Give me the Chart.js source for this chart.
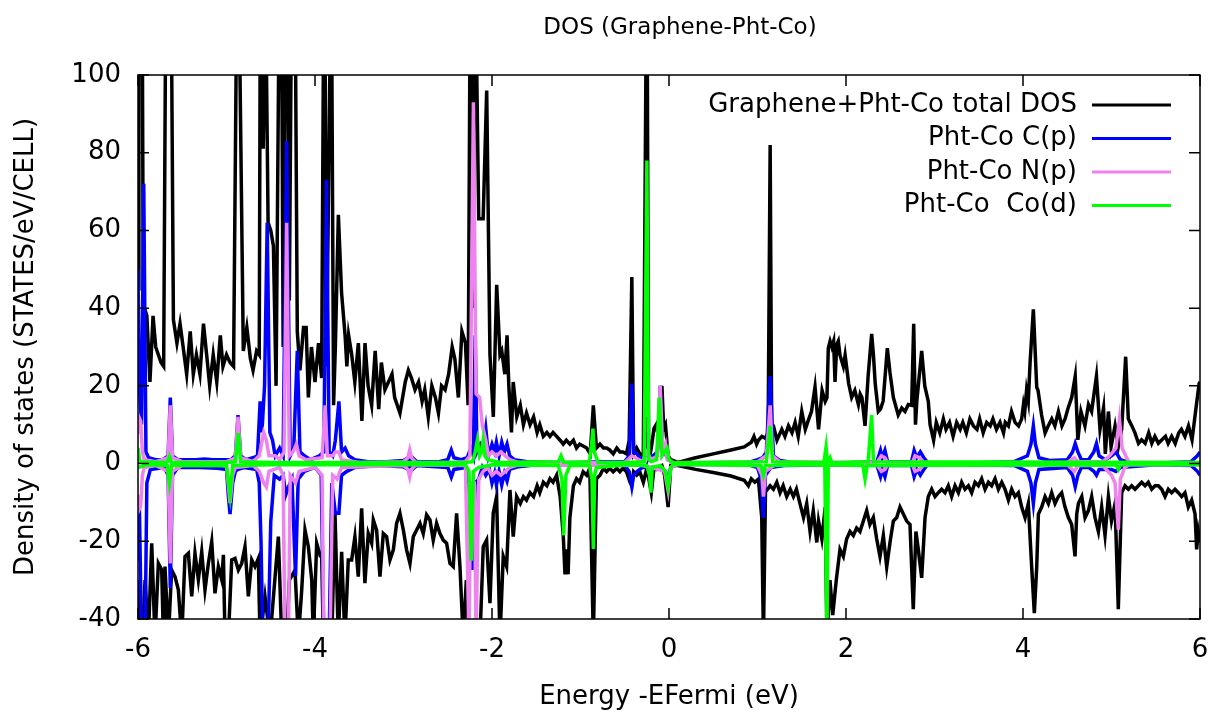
<!DOCTYPE html>
<html>
<head>
<meta charset="utf-8">
<title>DOS (Graphene-Pht-Co)</title>
<script src="https://cdn.jsdelivr.net/npm/chart.js@4.4.1/dist/chart.umd.min.js"></script>
<style>
  html, body { margin: 0; padding: 0; background: #fff; }
  #wrap { position: relative; width: 1216px; height: 715px; }
</style>
</head>
<body>
<div id="wrap"><canvas id="dos" width="1216" height="715"></canvas></div>
<script>
// ---------- data (energy in eV, DOS in states/eV/cell) ----------
const seriesLabels = ["Graphene+Pht-Co total DOS", "Pht-Co C(p)", "Pht-Co N(p)", "Pht-Co  Co(d)"];
const seriesColors = ["#000000", "#0000ff", "#ee82ee", "#00ff00"];
const chartTitle = "DOS (Graphene-Pht-Co)";
const xTitle = "Energy -EFermi (eV)";
const yTitle = "Density of states (STATES/eV/CELL)";

// total DOS, spin up
const totalUp = [
  [-6.00, 45], [-5.99, 105], [-5.95, 105], [-5.94, 41], [-5.90, 38], [-5.865, 21], [-5.83, 38], [-5.80, 30],
  [-5.77, 28], [-5.74, 26], [-5.71, 25], [-5.69, 105], [-5.62, 105], [-5.60, 37], [-5.56, 31], [-5.525, 36],
  [-5.49, 30], [-5.45, 23], [-5.41, 34], [-5.375, 23], [-5.34, 28], [-5.30, 23], [-5.26, 36], [-5.22, 27],
  [-5.19, 20], [-5.15, 28], [-5.11, 21], [-5.07, 33], [-5.04, 25], [-5.00, 28], [-4.96, 26], [-4.92, 25],
  [-4.89, 105], [-4.85, 105], [-4.81, 29], [-4.77, 35], [-4.73, 27], [-4.70, 24], [-4.66, 29], [-4.63, 28],
  [-4.62, 105], [-4.595, 105], [-4.585, 81], [-4.57, 105], [-4.55, 105], [-4.53, 62], [-4.50, 60], [-4.47, 56],
  [-4.44, 20], [-4.41, 105], [-4.375, 105], [-4.36, 30], [-4.34, 105], [-4.31, 105], [-4.29, 42], [-4.27, 105],
  [-4.22, 105], [-4.20, 34], [-4.17, 24], [-4.13, 35], [-4.10, 35], [-4.075, 17], [-4.04, 30], [-4.00, 21],
  [-3.96, 31], [-3.925, 22], [-3.905, 105], [-3.885, 105], [-3.87, 25], [-3.83, 105], [-3.81, 105], [-3.79, 15],
  [-3.77, 30], [-3.736, 64], [-3.70, 44], [-3.66, 33], [-3.64, 25], [-3.62, 33], [-3.585, 28], [-3.55, 21],
  [-3.51, 31], [-3.47, 11], [-3.435, 31], [-3.40, 20], [-3.36, 15], [-3.32, 29], [-3.28, 14], [-3.25, 26],
  [-3.21, 19], [-3.17, 21], [-3.13, 23], [-3.10, 17], [-3.04, 13], [-2.98, 21], [-2.945, 24], [-2.91, 22],
  [-2.87, 19], [-2.83, 21], [-2.79, 16], [-2.76, 19], [-2.72, 12], [-2.68, 20], [-2.64, 17], [-2.605, 13],
  [-2.57, 20], [-2.53, 19], [-2.49, 23], [-2.45, 30], [-2.42, 27], [-2.38, 17], [-2.34, 34], [-2.30, 31],
  [-2.27, 15], [-2.25, 105], [-2.23, 105], [-2.215, 40], [-2.20, 105], [-2.175, 105], [-2.15, 63], [-2.10, 63],
  [-2.06, 96], [-2.023, 28], [-1.985, 12], [-1.947, 46], [-1.91, 28], [-1.89, 29], [-1.855, 23], [-1.83, 33],
  [-1.81, 20], [-1.78, 8], [-1.76, 21], [-1.72, 12], [-1.68, 15], [-1.645, 10], [-1.61, 13], [-1.57, 10],
  [-1.53, 12], [-1.49, 8], [-1.46, 10], [-1.42, 7], [-1.38, 8], [-1.345, 7], [-1.31, 8], [-1.27, 7],
  [-1.23, 6], [-1.195, 5], [-1.16, 6], [-1.12, 5], [-1.08, 6], [-1.045, 4], [-1.01, 5], [-0.97, 4.5],
  [-0.93, 4], [-0.89, 2.5], [-0.855, 15], [-0.82, 4], [-0.78, 5], [-0.74, 4], [-0.705, 4], [-0.67, 3.5],
  [-0.63, 2.5], [-0.59, 4], [-0.555, 3], [-0.52, 3], [-0.48, 2.5], [-0.45, 6], [-0.42, 48], [-0.40, 2.5],
  [-0.365, 4], [-0.33, 2.5], [-0.29, 2], [-0.26, 105], [-0.245, 105], [-0.23, 0.5], [-0.20, 4], [-0.17, 9],
  [-0.145, 10], [-0.12, 7], [-0.08, 20], [-0.06, 9], [-0.04, 10], [-0.01, 2], [0.02, 1], [0.10, 0.3],
  [0.30, 1.5], [0.50, 2.5], [0.70, 3.5], [0.85, 4.3], [0.93, 5.5], [0.96, 7], [0.99, 5], [1.01, 6],
  [1.05, 7], [1.09, 6.5], [1.12, 8], [1.143, 82], [1.16, 10], [1.18, 9.7], [1.22, 6], [1.275, 8.8],
  [1.31, 7], [1.35, 9.7], [1.39, 7.9], [1.425, 10.6], [1.46, 7], [1.50, 13.4], [1.54, 8.8], [1.58, 11.5],
  [1.61, 13.4], [1.65, 19.7], [1.69, 8.8], [1.73, 18.8], [1.765, 16], [1.785, 17], [1.80, 29.7], [1.82, 31.5],
  [1.84, 30], [1.86, 31.5], [1.876, 21], [1.895, 30.6], [1.913, 31.5], [1.932, 27.9], [1.97, 25], [1.99, 27.9],
  [2.03, 20.6], [2.064, 17], [2.10, 18.8], [2.14, 15.2], [2.16, 17.9], [2.18, 17], [2.215, 9.7], [2.25, 22.5],
  [2.29, 33.4], [2.31, 28], [2.33, 20.6], [2.365, 13.4], [2.39, 14], [2.42, 16.1], [2.467, 29.7], [2.497, 23.4],
  [2.535, 17], [2.59, 12.5], [2.63, 14.3], [2.667, 13.4], [2.704, 15.2], [2.742, 15], [2.765, 36], [2.785, 10],
  [2.80, 16], [2.855, 29], [2.89, 20], [2.93, 16], [2.95, 10], [2.99, 6], [3.02, 10.6], [3.06, 7.9],
  [3.10, 11.5], [3.13, 8.8], [3.17, 10.6], [3.21, 7], [3.25, 10.6], [3.29, 8.8], [3.32, 10.6], [3.36, 7.9],
  [3.40, 11.5], [3.44, 9.7], [3.48, 8.8], [3.51, 11.5], [3.55, 7.9], [3.59, 10.6], [3.63, 9.7], [3.66, 11.5],
  [3.70, 8.8], [3.74, 10.6], [3.78, 7.9], [3.80, 10.6], [3.835, 9.7], [3.87, 13.4], [3.91, 10.6], [3.95, 9.7],
  [3.985, 11.5], [4.005, 15.2], [4.02, 13.4], [4.04, 18.8], [4.06, 16.1], [4.08, 26], [4.117, 39.7], [4.155, 19.7],
  [4.17, 18.8], [4.21, 12.5], [4.25, 7.9], [4.285, 9.7], [4.325, 11.5], [4.36, 9.7], [4.40, 13.4], [4.44, 9.7],
  [4.475, 11.5], [4.51, 14.3], [4.55, 17], [4.59, 22.5], [4.62, 6.1], [4.655, 13.4], [4.70, 9.7], [4.74, 15.2],
  [4.775, 13.4], [4.83, 22.5], [4.87, 8.8], [4.91, 14.3], [4.93, 2.5], [4.965, 13.4], [4.995, 4.3], [5.04, 9.7],
  [5.077, 4.3], [5.115, 8.8], [5.16, 27.5], [5.19, 11.5], [5.23, 9.7], [5.265, 7.9], [5.305, 5.2], [5.34, 6.1],
  [5.38, 5.2], [5.42, 7.9], [5.455, 5.2], [5.49, 7], [5.53, 5.2], [5.57, 6.1], [5.61, 7], [5.64, 5.2],
  [5.68, 7], [5.72, 5.2], [5.76, 7.9], [5.79, 8.8], [5.83, 7], [5.87, 9.7], [5.91, 6.1], [5.95, 13.4],
  [5.99, 20.6], [6.00, 21]
];

// total DOS, spin down
const totalDown = [
  [-6.00, -30], [-5.99, -45], [-5.95, -45], [-5.92, -30], [-5.883, -45], [-5.845, -20.5], [-5.808, -45], [-5.77, -25.7],
  [-5.732, -27.4], [-5.713, -45], [-5.695, -26.5], [-5.657, -45], [-5.62, -27.4], [-5.582, -29.1], [-5.544, -32.5], [-5.506, -45],
  [-5.469, -23.9], [-5.431, -23.1], [-5.393, -34.2], [-5.356, -23.1], [-5.318, -29.9], [-5.28, -22.7], [-5.243, -32.5], [-5.205, -25.7],
  [-5.167, -20.1], [-5.13, -33.4], [-5.092, -26.5], [-5.054, -29.9], [-5.035, -23.5], [-5.017, -45], [-4.979, -45], [-4.941, -24.8],
  [-4.904, -24.4], [-4.866, -27.4], [-4.828, -25.7], [-4.791, -21.4], [-4.753, -34.2], [-4.715, -24.8], [-4.678, -26.5], [-4.64, -24.4],
  [-4.621, -45], [-4.565, -34.2], [-4.508, -45], [-4.414, -18.8], [-4.376, -45], [-4.32, -45], [-4.29, -30], [-4.226, -27.4],
  [-4.188, -45], [-4.15, -32.5], [-4.113, -17.1], [-4.075, -21.4], [-4.037, -29.9], [-4.019, -45], [-3.981, -20.5], [-3.944, -23.5],
  [-3.925, -23.1], [-3.906, -45], [-3.81, -45], [-3.774, -12.8], [-3.737, -45], [-3.699, -22.7], [-3.662, -45], [-3.624, -24.8],
  [-3.586, -24.8], [-3.549, -18.8], [-3.511, -29.1], [-3.473, -11.5], [-3.436, -30.8], [-3.398, -18], [-3.36, -20.5], [-3.341, -14.5],
  [-3.304, -17.1], [-3.266, -29.1], [-3.228, -18], [-3.191, -18.8], [-3.153, -24.8], [-3.115, -22.2], [-3.078, -15.4], [-3.04, -12.8],
  [-3.002, -17.1], [-2.965, -22.2], [-2.927, -25.7], [-2.889, -18.8], [-2.852, -17.1], [-2.814, -15.4], [-2.777, -18], [-2.739, -13.2],
  [-2.701, -14.5], [-2.664, -19.7], [-2.626, -15.4], [-2.588, -18], [-2.551, -19.7], [-2.513, -20.5], [-2.475, -25.7], [-2.438, -26.5],
  [-2.40, -12.8], [-2.362, -26.5], [-2.325, -45], [-2.29, -30], [-2.26, -45], [-2.17, -45], [-2.136, -45], [-2.099, -21.4],
  [-2.061, -19.7], [-2.023, -35.9], [-1.986, -12.8], [-1.948, -8.5], [-1.91, -45], [-1.873, -23.9], [-1.835, -26.5], [-1.797, -6.8],
  [-1.76, -18.8], [-1.722, -8.5], [-1.68, -10.3], [-1.645, -8.5], [-1.61, -9.4], [-1.57, -7.5], [-1.53, -8.5], [-1.49, -5.7],
  [-1.46, -7.5], [-1.42, -4.8], [-1.38, -5.7], [-1.345, -3.9], [-1.31, -4.8], [-1.27, -3], [-1.23, -8.5], [-1.195, -18.5],
  [-1.175, -28.5], [-1.155, -22.1], [-1.14, -28.5], [-1.12, -13.9], [-1.08, -5.7], [-1.045, -3.9], [-1.01, -4.8], [-0.97, -2.1],
  [-0.93, -3], [-0.895, -1.2], [-0.855, -45], [-0.82, -3.9], [-0.78, -3], [-0.74, -1.2], [-0.705, -2.1], [-0.67, -1.2],
  [-0.63, -2.1], [-0.59, -1.2], [-0.555, -2.1], [-0.52, -1.2], [-0.48, -2.1], [-0.44, -4.8], [-0.42, -5.7], [-0.40, -2.1],
  [-0.365, -3], [-0.33, -2.1], [-0.29, -4.8], [-0.25, -1.2], [-0.20, -7.5], [-0.17, -1.2], [-0.145, -1.5], [-0.12, -1],
  [-0.08, -0.5], [-0.05, -3], [-0.01, -11.2], [0.02, -0.5], [0.10, -0.5], [0.30, -1.5], [0.50, -2.3], [0.70, -3.2],
  [0.85, -4.3], [0.897, -5.7], [0.93, -3.9], [0.97, -4.8], [1.01, -4], [1.048, -13.9], [1.067, -45], [1.09, -7.3],
  [1.143, -5.7], [1.18, -6.6], [1.218, -4.8], [1.255, -7.5], [1.29, -5.7], [1.33, -8.5], [1.37, -6.6], [1.406, -8.5],
  [1.44, -6.6], [1.48, -10.3], [1.52, -13.9], [1.556, -10.3], [1.594, -17.5], [1.63, -12.1], [1.67, -20.3], [1.69, -14.8],
  [1.727, -19.4], [1.765, -11.2], [1.785, -45], [1.819, -30], [1.85, -39], [1.89, -30], [1.932, -22.1], [1.97, -23.9],
  [2.007, -19.4], [2.045, -17.5], [2.083, -18.5], [2.12, -16.6], [2.158, -17.5], [2.196, -14.8], [2.234, -12.1], [2.27, -15.7],
  [2.309, -13.9], [2.347, -19.4], [2.384, -23.9], [2.422, -18.5], [2.46, -26.6], [2.497, -20.3], [2.535, -14.8], [2.573, -13.9],
  [2.61, -11.2], [2.648, -13], [2.686, -14.8], [2.723, -15.7], [2.76, -37.5], [2.79, -17.5], [2.817, -22.1], [2.855, -29.4],
  [2.893, -13.9], [2.93, -8.5], [2.968, -6.6], [3.006, -8.5], [3.043, -7.5], [3.081, -6.6], [3.119, -7.5], [3.156, -5.7],
  [3.194, -8.5], [3.232, -5.7], [3.27, -7.5], [3.307, -4.8], [3.345, -6.6], [3.383, -5.7], [3.42, -7.5], [3.458, -4.8],
  [3.496, -5.7], [3.533, -3.9], [3.571, -6.6], [3.609, -4.8], [3.646, -5.7], [3.684, -3.9], [3.722, -6.6], [3.76, -4.8],
  [3.797, -6.6], [3.835, -9.4], [3.872, -6.6], [3.91, -8.5], [3.948, -7.5], [3.985, -11.2], [4.023, -13.9], [4.06, -10.3],
  [4.098, -26.6], [4.128, -38.5], [4.155, -26.6], [4.174, -13], [4.211, -11.2], [4.249, -8.5], [4.287, -10.3], [4.324, -7.5],
  [4.362, -10.3], [4.40, -8.5], [4.437, -7.5], [4.475, -11.2], [4.513, -13.9], [4.55, -15.7], [4.588, -23.9], [4.607, -13],
  [4.626, -10.3], [4.664, -8.5], [4.701, -13.9], [4.739, -12.1], [4.776, -8.5], [4.814, -13.9], [4.852, -17.5], [4.889, -11.2],
  [4.927, -18.5], [4.965, -8.5], [5.00, -14.8], [5.04, -10.3], [5.077, -37.5], [5.115, -7.5], [5.153, -5.7], [5.19, -6.6],
  [5.228, -5.7], [5.266, -6.6], [5.303, -5.7], [5.341, -4.8], [5.379, -5.7], [5.416, -4.8], [5.454, -6.6], [5.492, -5.7],
  [5.53, -5.7], [5.567, -6.6], [5.605, -8.5], [5.642, -6.6], [5.68, -7.5], [5.718, -6.6], [5.755, -7.5], [5.793, -8.5],
  [5.83, -7.5], [5.868, -11.2], [5.906, -9.4], [5.944, -13], [5.962, -22.1], [5.98, -17.5], [6.00, -20.3]
];

// Pht-Co C(p)
const cpUp = [
  [-6.00, 50], [-5.985, 20], [-5.96, 10], [-5.935, 72], [-5.91, 3], [-5.88, 1.5], [-5.80, 1], [-5.72, 1],
  [-5.66, 2], [-5.635, 17], [-5.61, 2], [-5.55, 1], [-5.45, 1], [-5.35, 1], [-5.25, 1.2], [-5.15, 1],
  [-5.05, 1], [-4.95, 1], [-4.90, 2], [-4.87, 12.5], [-4.84, 2], [-4.78, 1], [-4.70, 1.5], [-4.65, 2],
  [-4.62, 16], [-4.60, 8], [-4.57, 20], [-4.54, 62], [-4.51, 8], [-4.48, 6], [-4.45, 2], [-4.40, 4],
  [-4.36, 2], [-4.32, 83], [-4.28, 2], [-4.24, 4], [-4.20, 29], [-4.17, 3], [-4.12, 2], [-4.05, 1],
  [-3.95, 2], [-3.90, 3], [-3.87, 73], [-3.84, 3], [-3.80, 2], [-3.77, 6], [-3.73, 16], [-3.70, 3],
  [-3.66, 4], [-3.62, 2], [-3.55, 1], [-3.40, 0.5], [-3.20, 0.5], [-3.00, 0.8], [-2.95, 1.5], [-2.93, 0.5],
  [-2.90, 1.5], [-2.85, 0.5], [-2.60, 0.5], [-2.50, 1], [-2.46, 3.5], [-2.43, 1.5], [-2.35, 1], [-2.28, 1.5],
  [-2.24, 4], [-2.21, 2], [-2.19, 33], [-2.17, 3], [-2.13, 5], [-2.10, 4], [-2.07, 9], [-2.04, 2],
  [-2.00, 5], [-1.97, 3], [-1.95, 5.5], [-1.92, 2], [-1.89, 5.5], [-1.86, 3], [-1.83, 5], [-1.80, 2],
  [-1.75, 1], [-1.60, 0.5], [-1.30, 0.3], [-1.00, 0.3], [-0.80, 0.5], [-0.50, 0.5], [-0.45, 2], [-0.42, 20.6],
  [-0.40, 3], [-0.36, 2.5], [-0.32, 1], [-0.27, 2], [-0.25, 12], [-0.23, 1], [-0.18, 2], [-0.13, 3],
  [-0.10, 20], [-0.07, 3], [-0.04, 2.5], [-0.01, 1], [0.05, 0.2], [0.90, 0.3], [1.00, 1], [1.06, 1.5],
  [1.10, 3], [1.143, 22.5], [1.18, 2], [1.25, 0.8], [1.40, 0.3], [2.00, 0.2], [2.35, 0.5], [2.39, 3.4],
  [2.41, 1.5], [2.44, 3.4], [2.47, 0.5], [2.74, 0.5], [2.77, 3.4], [2.80, 1.5], [2.84, 3], [2.88, 1.5],
  [2.92, 0.3], [3.50, 0.2], [3.90, 0.5], [4.05, 2], [4.09, 5], [4.117, 9.7], [4.14, 5], [4.18, 1.5],
  [4.30, 0.8], [4.50, 1], [4.56, 3], [4.59, 5.2], [4.62, 3], [4.66, 1], [4.74, 1], [4.80, 3],
  [4.83, 5.2], [4.86, 2], [4.93, 1], [5.00, 2], [5.05, 3], [5.10, 1], [5.20, 0.3], [5.60, 0.2],
  [5.90, 0.5], [5.97, 2], [6.00, 3]
];
const cpDown = [
  [-6.00, -25], [-5.985, -10], [-5.96, -45], [-5.92, -45], [-5.90, -5], [-5.86, -1.5], [-5.70, -1], [-5.66, -3],
  [-5.635, -32], [-5.61, -3], [-5.55, -1], [-5.30, -1], [-5.10, -1.2], [-5.00, -1.5], [-4.98, -8], [-4.96, -13],
  [-4.93, -5], [-4.90, -2], [-4.87, -1.5], [-4.80, -1], [-4.66, -1.5], [-4.63, -5], [-4.61, -20], [-4.59, -45],
  [-4.53, -45], [-4.50, -15], [-4.46, -3], [-4.40, -4], [-4.36, -3], [-4.33, -8], [-4.30, -6], [-4.26, -4],
  [-4.22, -29], [-4.19, -4], [-4.12, -2], [-4.00, -1], [-3.93, -3], [-3.90, -45], [-3.84, -45], [-3.81, -5],
  [-3.77, -12.8], [-3.73, -12.8], [-3.70, -3], [-3.64, -2], [-3.55, -1], [-3.30, -0.5], [-3.00, -0.8], [-2.95, -1.5],
  [-2.93, -0.5], [-2.90, -1.5], [-2.85, -0.5], [-2.50, -1], [-2.46, -3.5], [-2.43, -1.5], [-2.30, -1], [-2.26, -5],
  [-2.22, -27.4], [-2.19, -5], [-2.15, -4], [-2.11, -1], [-2.07, -3], [-2.03, -1.5], [-2.00, -5], [-1.97, -2.5],
  [-1.95, -5.5], [-1.92, -2], [-1.89, -5.5], [-1.86, -2.5], [-1.83, -4.5], [-1.80, -1.5], [-1.70, -0.8], [-1.50, -0.3],
  [-1.00, -0.3], [-0.50, -0.5], [-0.45, -2], [-0.42, -6], [-0.40, -3], [-0.36, -2], [-0.30, -1], [-0.10, -1],
  [-0.04, -2], [-0.01, -5], [0.02, -1], [0.10, -0.2], [0.90, -0.3], [1.00, -1], [1.04, -4], [1.067, -14],
  [1.09, -3], [1.15, -1], [1.30, -0.5], [2.00, -0.3], [2.35, -0.5], [2.39, -3.4], [2.41, -1.5], [2.44, -3.4],
  [2.47, -0.5], [2.74, -0.5], [2.77, -3.4], [2.80, -1.5], [2.84, -3], [2.88, -1.5], [2.92, -0.3], [3.90, -0.5],
  [4.05, -2], [4.09, -5], [4.117, -10.3], [4.14, -5], [4.18, -1.5], [4.50, -1], [4.56, -3], [4.59, -6],
  [4.62, -3], [4.66, -1], [4.74, -1], [4.80, -2], [4.83, -3], [4.86, -1.5], [5.00, -1.5], [5.05, -2],
  [5.10, -1], [5.50, -0.3], [5.90, -0.5], [5.97, -2], [6.00, -3]
];

// Pht-Co N(p)
const npUp = [
  [-6.00, 8], [-5.99, 12], [-5.97, 11], [-5.95, 3], [-5.93, 1], [-5.80, 0.5], [-5.66, 1.5], [-5.635, 15],
  [-5.61, 1.5], [-5.50, 0.5], [-5.00, 0.5], [-4.90, 1.5], [-4.87, 12], [-4.84, 1.5], [-4.70, 0.5], [-4.63, 2],
  [-4.58, 8], [-4.55, 6], [-4.52, 2], [-4.45, 2], [-4.40, 1], [-4.35, 3], [-4.32, 62], [-4.29, 2],
  [-4.25, 3], [-4.21, 5], [-4.18, 2], [-4.10, 1], [-3.92, 1.5], [-3.885, 15], [-3.86, 2], [-3.80, 2],
  [-3.77, 3], [-3.73, 3], [-3.70, 1], [-3.50, 0.3], [-3.00, 0.5], [-2.95, 1.5], [-2.93, 3.5], [-2.91, 1.5],
  [-2.86, 0.3], [-2.50, 0.3], [-2.30, 0.5], [-2.25, 2], [-2.21, 93], [-2.18, 18], [-2.14, 17], [-2.11, 10],
  [-2.07, 6], [-2.04, 2], [-2.00, 3], [-1.95, 2], [-1.90, 3], [-1.85, 2], [-1.80, 1], [-1.70, 0.3],
  [-0.50, 0.3], [-0.42, 2], [-0.30, 0.5], [-0.25, 3], [-0.20, 1], [-0.13, 2], [-0.10, 20], [-0.07, 3],
  [-0.04, 5], [-0.02, 1], [0.05, 0.2], [1.00, 0.5], [1.10, 2], [1.143, 15], [1.17, 2], [1.25, 0.5],
  [2.35, 0.3], [2.40, 2], [2.44, 1.5], [2.47, 0.3], [2.75, 0.3], [2.78, 2], [2.83, 1.5], [2.88, 0.3],
  [4.50, 0.3], [4.58, 1.5], [4.62, 0.5], [4.90, 0.5], [4.98, 2], [5.05, 4], [5.09, 11.5], [5.12, 4],
  [5.16, 2], [5.20, 0.3], [6.00, 0.3]
];
const npDown = [
  [-6.00, -8], [-5.99, -12], [-5.97, -11], [-5.95, -3], [-5.93, -1], [-5.80, -0.5], [-5.66, -2], [-5.635, -25.7],
  [-5.61, -2], [-5.50, -0.5], [-5.00, -0.5], [-4.96, -10.2], [-4.93, -3], [-4.90, -1], [-4.70, -0.5], [-4.63, -2],
  [-4.58, -5], [-4.55, -6], [-4.52, -2], [-4.40, -1], [-4.36, -3], [-4.34, -45], [-4.30, -45], [-4.28, -3],
  [-4.22, -5], [-4.18, -2], [-4.00, -1], [-3.92, -3], [-3.90, -45], [-3.83, -45], [-3.80, -3], [-3.75, -4],
  [-3.70, -1], [-3.00, -0.5], [-2.95, -1.5], [-2.93, -3.5], [-2.91, -1.5], [-2.86, -0.3], [-2.30, -0.5], [-2.26, -45],
  [-2.24, -5], [-2.20, -5], [-2.18, -45], [-2.15, -4], [-2.10, -2], [-2.05, -1], [-2.00, -3], [-1.95, -2],
  [-1.90, -3], [-1.85, -2], [-1.80, -1], [-1.70, -0.3], [-0.30, -0.5], [-0.20, -1], [-0.05, -2], [-0.01, -7],
  [0.02, -1], [0.10, -0.2], [1.00, -0.5], [1.05, -3], [1.067, -8.5], [1.09, -2], [1.20, -0.3], [2.35, -0.3],
  [2.40, -2], [2.44, -1.5], [2.47, -0.3], [2.75, -0.3], [2.78, -2], [2.83, -1.5], [2.88, -0.3], [4.50, -0.3],
  [4.58, -2], [4.62, -0.5], [4.90, -0.5], [5.00, -3], [5.04, -5], [5.077, -17], [5.10, -4], [5.15, -1],
  [5.20, -0.3], [6.00, -0.3]
];

// Pht-Co Co(d)
const codUp = [
  [-6.00, 4], [-5.98, 0.5], [-5.70, 0.3], [-5.665, 0.5], [-5.645, 1.8], [-5.62, 0.3], [-5.00, 0.3], [-4.90, 0.5],
  [-4.866, 7.8], [-4.84, 0.5], [-4.50, 0.3], [-2.30, 0.3], [-2.22, 0.5], [-2.19, 3], [-2.165, 6], [-2.14, 2],
  [-2.12, 3], [-2.10, 6], [-2.08, 2], [-2.05, 1], [-1.90, 0.3], [-1.25, 0.5], [-1.22, 2], [-1.19, 0.3],
  [-0.90, 0.5], [-0.875, 5], [-0.86, 9], [-0.845, 3], [-0.82, 1.5], [-0.80, 0.3], [-0.50, 0.3], [-0.28, 0.5],
  [-0.25, 78], [-0.23, 1], [-0.20, 0.5], [-0.14, 1], [-0.11, 17], [-0.08, 2], [-0.05, 3], [-0.02, 4],
  [0.00, 1], [0.05, 0.2], [1.10, 0.5], [1.143, 9.7], [1.17, 0.5], [1.75, 0.3], [1.775, 4.3], [1.79, 0.3],
  [1.82, 1.5], [1.84, 0.2], [2.25, 0.5], [2.29, 12.5], [2.31, 0.5], [6.00, 0.3]
];
const codDown = [
  [-6.00, -1], [-5.90, -0.3], [-5.67, -0.5], [-5.645, -5], [-5.62, -0.5], [-5.00, -0.5], [-4.96, -8], [-4.93, -0.5],
  [-4.50, -0.3], [-2.30, -0.3], [-2.26, -2], [-2.235, -25], [-2.21, -2], [-2.15, -1], [-2.00, -0.3], [-1.25, -0.5],
  [-1.21, -4], [-1.19, -18.5], [-1.165, -3], [-1.12, -0.5], [-0.90, -0.5], [-0.87, -4], [-0.855, -22], [-0.84, -3],
  [-0.82, -1], [-0.50, -0.3], [-0.25, -0.5], [-0.22, -3], [-0.205, -7.5], [-0.19, -1], [-0.10, -0.5], [-0.04, -2],
  [-0.01, -6], [0.02, -1], [0.05, -0.2], [1.04, -0.5], [1.067, -3], [1.09, -0.5], [1.76, -0.3], [1.785, -45],
  [1.80, -0.3], [2.19, -0.5], [2.215, -4], [2.24, -0.5], [5.05, -0.3], [5.077, -1.5], [5.10, -0.3], [6.00, -0.3]
];

// ---------- helpers ----------

// up branch, a break, then the down branch: one line per projection
function spinPair(up, down) {
  const pts = up.map(([x, y]) => ({ x, y }));
  pts.push({ x: 6, y: null });
  return pts.concat(down.map(([x, y]) => ({ x, y })));
}

// keep tick labels from pushing the plot box around
function noPad(scale) {
  scale.paddingLeft = 0;
  scale.paddingRight = 0;
  scale.paddingTop = 0;
  scale.paddingBottom = 0;
}

const FONT = "'DejaVu Sans', 'Noto Sans', sans-serif";

// gnuplot-like frame with inward ticks on all four sides
const frameTicks = {
  id: 'frameTicks',
  afterDatasetsDraw(chart) {
    const { ctx, chartArea: a, scales: { x, y } } = chart;
    const len = 11;
    ctx.save();
    ctx.strokeStyle = '#000';
    ctx.lineWidth = 1.5;
    ctx.beginPath();
    x.ticks.forEach(t => {
      const px = x.getPixelForValue(t.value);
      ctx.moveTo(px, a.bottom); ctx.lineTo(px, a.bottom - len);
      ctx.moveTo(px, a.top); ctx.lineTo(px, a.top + len);
    });
    y.ticks.forEach(t => {
      const py = y.getPixelForValue(t.value);
      ctx.moveTo(a.left, py); ctx.lineTo(a.left + len, py);
      ctx.moveTo(a.right, py); ctx.lineTo(a.right - len, py);
    });
    ctx.stroke();
    ctx.strokeRect(a.left, a.top, a.right - a.left, a.bottom - a.top);
    ctx.restore();
  }
};

// title above the plot area and a key with text on the left, sample line on the right
const keyAndTitle = {
  id: 'keyAndTitle',
  afterDraw(chart) {
    const { ctx, chartArea: a } = chart;
    ctx.save();
    ctx.fillStyle = '#000';
    ctx.font = `23px ${FONT}`;
    ctx.textAlign = 'center';
    ctx.textBaseline = 'middle';
    ctx.fillText(chartTitle, (a.left + a.right) / 2 + 11, 28);

    ctx.font = `26px ${FONT}`;
    ctx.textAlign = 'right';
    const textRight = a.right - 123;
    const lineStart = a.right - 108, lineEnd = a.right - 29;
    chart.data.datasets.forEach((ds, i) => {
      const rowY = a.top + 30 + i * 33.5;
      ctx.fillStyle = '#000';
      ctx.fillText(ds.label, textRight, rowY);
      ctx.strokeStyle = ds.borderColor;
      ctx.lineWidth = 3;
      ctx.beginPath();
      ctx.moveTo(lineStart, rowY);
      ctx.lineTo(lineEnd, rowY);
      ctx.stroke();
    });
    ctx.restore();
  }
};

// ---------- chart ----------
const pairs = [[totalUp, totalDown], [cpUp, cpDown], [npUp, npDown], [codUp, codDown]];
const datasets = pairs.map(([up, down], i) => ({
  label: seriesLabels[i],
  data: spinPair(up, down),
  borderColor: seriesColors[i],
  backgroundColor: seriesColors[i],
  borderWidth: 3.5,
  pointRadius: 0,
  tension: 0,
  spanGaps: false,
  order: 4 - i   // later curves painted over earlier ones, as in the plot
}));

Chart.defaults.font.family = FONT;
Chart.defaults.color = '#000';

new Chart(document.getElementById('dos'), {
  type: 'line',
  data: { datasets },
  options: {
    responsive: false,
    animation: false,
    events: [],
    layout: { padding: { top: 75, right: 16, left: 0, bottom: 0 } },
    plugins: { legend: { display: false }, title: { display: false }, tooltip: { enabled: false } },
    scales: {
      x: {
        type: 'linear',
        min: -6, max: 6,
        ticks: { stepSize: 2, font: { size: 26 }, padding: 16, color: '#000' },
        grid: { display: false, drawTicks: false },
        border: { display: false },
        title: { display: true, text: xTitle, font: { size: 26 }, padding: { top: 0, bottom: 2 }, color: '#000' },
        afterFit(scale) { scale.height = 96; noPad(scale); }
      },
      y: {
        type: 'linear',
        min: -40, max: 100,
        ticks: { stepSize: 20, font: { size: 26 }, padding: 17, color: '#000' },
        grid: { display: false, drawTicks: false },
        border: { display: false },
        title: { display: true, text: yTitle, font: { size: 26 }, padding: { top: 11, bottom: 0 }, color: '#000' },
        afterFit(scale) { scale.width = 138; noPad(scale); }
      }
    }
  },
  plugins: [frameTicks, keyAndTitle]
});
</script>
</body>
</html>
